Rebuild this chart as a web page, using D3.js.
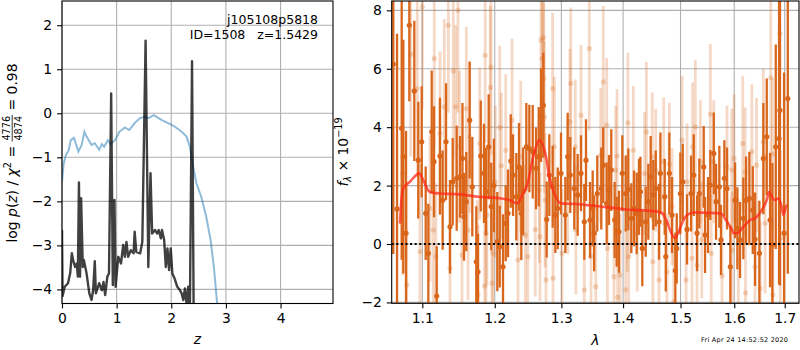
<!DOCTYPE html>
<html>
<head>
<meta charset="utf-8">
<script src="https://cdn.jsdelivr.net/npm/d3@7"></script>
<style>
  body { margin: 0; background: #fff; }
  svg { display: block; font-family: 'DejaVu Sans', sans-serif; }
  .tick text { font-size: 13.9px; fill: #000; }
  .tick line { stroke: #000; stroke-width: 1.1; }
</style>
</head>
<body>
<svg id="fig" width="800" height="350"></svg>
<script>
// ---- left panel: p(z) curves ----
const pzZ = [0, 0.03, 0.07, 0.12, 0.16, 0.22, 0.30, 0.36, 0.41, 0.45, 0.54, 0.60, 0.68, 0.73, 0.77,
  0.84, 0.89, 0.97, 1.05, 1.15, 1.23, 1.34, 1.43, 1.52, 1.58, 1.68, 1.82, 1.97, 2.06, 2.19, 2.28,
  2.34, 2.40, 2.46, 2.55, 2.64, 2.72, 2.78, 2.84, 2.90];
const pzLog = [-1.55, -1.15, -0.95, -0.85, -0.61, -0.56, -0.87, -0.72, -0.42, -0.53, -0.72, -0.68, -0.83, -0.70, -0.76,
  -0.61, -0.70, -0.61, -0.42, -0.32, -0.38, -0.21, -0.11, -0.08, -0.11, -0.04, -0.15, -0.24, -0.30, -0.42, -0.53,
  -0.76, -1.21, -1.59, -1.90, -2.35, -2.88, -3.49, -4.33, -5.2];

const chiZ = [0, 0.01, 0.05, 0.11, 0.15, 0.18, 0.21, 0.24, 0.27, 0.29, 0.31, 0.33, 0.35, 0.38, 0.40,
  0.45, 0.50, 0.54, 0.57, 0.60, 0.62, 0.68, 0.73, 0.76, 0.79, 0.83, 0.86, 0.90, 0.93, 0.96, 0.98,
  1.03, 1.08, 1.12, 1.15, 1.18, 1.21, 1.26, 1.31, 1.33, 1.36, 1.43, 1.47, 1.53, 1.58, 1.62, 1.65,
  1.70, 1.74, 1.77, 1.81, 1.83, 1.87, 1.90, 1.93, 1.96, 1.99, 2.02, 2.06, 2.11, 2.16, 2.19, 2.22,
  2.25, 2.28, 2.31, 2.34, 2.38, 2.41, 2.45];
const chiLog = [-2.65, -4.15, -3.94, -3.86, -3.63, -3.18, -3.37, -3.49, -3.41, -3.71, -1.57, -3.71, -1.93, -3.49, -3.33,
  -3.64, -4.09, -4.24, -4.02, -3.36, -4.09, -3.86, -4.02, -3.83, -4.13, -3.71, -3.64, 0.45, -3.90, -1.97, -3.94,
  -3.26, -3.41, -2.99, -3.26, -2.92, -3.26, -3.11, -3.18, -2.69, -3.15, -3.18, -2.92, 1.65, -3.49, -1.36, -2.73,
  -2.65, -2.73, -2.65, -2.84, -2.65, -2.88, -3.49, -3.07, -3.56, -3.07, -3.64, -3.75, -3.94, -4.02, -4.09, -4.24,
  -3.98, -4.32, -3.94, -4.6, 1.18, -4.6, -6];

const zTicks = [0, 1, 2, 3, 4];
const logTicks = [-4, -3, -2, -1, 0, 1, 2];

// ---- right panel: spectrum ----
const lamTicks = [1.1, 1.2, 1.3, 1.4, 1.5, 1.6, 1.7];
const fluxTicks = [-2, 0, 2, 4, 6, 8];

const lightLam = [1.0744, 1.0796, 1.0848, 1.0934, 1.0969, 1.1000, 1.1102, 1.1146, 1.1159, 1.1181, 1.1236, 1.1294,
  1.1349, 1.1372, 1.1417, 1.1450, 1.1482, 1.1502, 1.1537, 1.1597, 1.1621, 1.1644, 1.1751, 1.1761, 1.1785,
  1.1856, 1.1863, 1.1874, 1.1887, 1.1936, 1.1945, 1.1960, 1.1972, 1.2008, 1.2072, 1.2095, 1.2159, 1.2252,
  1.2340, 1.2380, 1.2449, 1.2485, 1.2599, 1.2660, 1.2671, 1.2686, 1.2701, 1.2721, 1.2728, 1.2736, 1.2747,
  1.2762, 1.2865, 1.2870, 1.2890, 1.3010, 1.3099, 1.3135, 1.3148, 1.3219, 1.3229, 1.3310, 1.3363, 1.3444,
  1.3472, 1.3548, 1.3629, 1.3671, 1.3727, 1.3740, 1.3848, 1.3876, 1.3899, 1.3909, 1.3950, 1.4044, 1.4071,
  1.4081, 1.4095, 1.4173, 1.4241, 1.4368, 1.4398, 1.4500, 1.4510, 1.4560, 1.4618, 1.4700, 1.4758, 1.4800,
  1.4848, 1.4878, 1.5028, 1.5100, 1.5118, 1.5209, 1.5219, 1.5270, 1.5301, 1.5362, 1.5388, 1.5547, 1.5563,
  1.5611, 1.5767, 1.5862, 1.5952, 1.5958, 1.5996, 1.6079, 1.6164, 1.6210, 1.6218, 1.6341, 1.6405, 1.6434,
  1.6505, 1.6569, 1.6604, 1.6718, 1.6752, 1.6758, 1.6902, 1.6910];
const lightFlux = [2.42, -1.40, 6.50, 5.32, -0.26, 8.12, 1.22, 0.48, 6.35, -0.43, 3.79, 4.70,
  7.49, -0.83, 5.92, 4.70, 8.00, 3.33, -0.38, 4.64, 0.48, 3.67, -1.00, -1.74, 3.44,
  -1.44, 6.46, 0.37, 0.99, 5.36, 6.06, -1.34, -0.32, 2.13, 3.99, 2.68, 3.21, 4.24,
  -0.55, 2.99, 0.31, -0.43, 0.50, 1.85, 0.25, 6.98, 6.35, 7.07, 5.67, 4.35, 1.50,
  -1.23, 5.32, -1.17, 3.33, -0.32, 1.96, 4.18, 5.50, 3.33, 0.48, 4.41, -1.57, 6.69,
  -0.43, -1.46, 3.04, 5.55, 4.07, -0.15, -1.12, 2.53, 3.01, -1.82, -1.06, -1.57, 1.05,
  4.15, -0.43, 3.21, 0.37, 2.42, 3.84, 2.99, -0.61, 2.53, -1.23, 2.82, -0.95, 2.74,
  1.28, -1.97, 3.56, -1.23, 2.13, -0.49, 3.33, 4.01, -0.72, 2.82, 0.14, 4.45, -0.32,
  2.82, -1.09, 2.64, 2.53, -0.21, 2.93, -0.55, 3.44, 2.47, -1.67, 3.16, -0.78, 2.70,
  -1.52, 3.50, 0.71, 5.70, 3.08, -1.74, 7.21, 0.20];
const lightErr = [3.5, 3.5, 3.5, 3.0, 3.0, 3.5, 2.5, 2.6, 3.0, 2.5, 2.8, 3.0,
  3.0, 2.5, 3.0, 2.8, 3.5, 2.6, 2.5, 2.8, 2.4, 2.6, 2.5, 2.4, 2.6,
  2.5, 3.0, 2.5, 2.4, 2.8, 3.0, 2.4, 2.5, 2.6, 2.8, 2.5, 2.6, 2.8,
  2.4, 2.6, 2.4, 2.3, 2.3, 2.5, 2.2, 3.0, 2.8, 3.2, 2.6, 2.6, 2.3,
  2.3, 2.6, 2.2, 2.4, 2.2, 2.3, 2.5, 2.6, 2.3, 2.2, 2.4, 2.2, 2.8,
  2.2, 2.1, 2.3, 2.6, 2.3, 2.1, 2.1, 2.2, 2.3, 2.0, 2.1, 2.1, 2.0,
  2.4, 2.0, 2.2, 2.0, 2.1, 2.4, 2.2, 2.0, 2.1, 2.0, 2.2, 2.0, 2.1,
  2.0, 2.0, 2.2, 2.0, 2.0, 2.0, 2.2, 2.3, 2.0, 2.1, 2.0, 2.4, 2.0,
  2.1, 2.0, 2.1, 2.1, 2.0, 2.2, 2.1, 2.3, 2.2, 2.2, 2.3, 2.2, 2.3,
  2.3, 2.5, 2.4, 3.0, 2.6, 2.6, 3.5, 3.0];

const darkLam = [1.0623, 1.0671, 1.0731, 1.0752, 1.0787, 1.0830, 1.0895, 1.0947, 1.0992, 1.1045, 1.1080, 1.1125,
  1.1156, 1.1192, 1.1236, 1.1272, 1.1318, 1.1372, 1.1409, 1.1464, 1.1510, 1.1544, 1.1565, 1.1597, 1.1644,
  1.1681, 1.1737, 1.1761, 1.1800, 1.1846, 1.1874, 1.1913, 1.1950, 1.1988, 1.2037, 1.2072, 1.2120, 1.2159,
  1.2193, 1.2233, 1.2267, 1.2315, 1.2355, 1.2389, 1.2416, 1.2464, 1.2509, 1.2560, 1.2610, 1.2651, 1.2686,
  1.2721, 1.2773, 1.2813, 1.2865, 1.2906, 1.2943, 1.2994, 1.3062, 1.3099, 1.3140, 1.3203, 1.3257, 1.3310,
  1.3363, 1.3390, 1.3455, 1.3498, 1.3522, 1.3573, 1.3638, 1.3671, 1.3727, 1.3765, 1.3803, 1.3859, 1.3893,
  1.3931, 1.3987, 1.4044, 1.4088, 1.4139, 1.4185, 1.4231, 1.4270, 1.4295, 1.4327, 1.4386, 1.4431, 1.4472,
  1.4518, 1.4560, 1.4618, 1.4642, 1.4718, 1.4737, 1.4800, 1.4848, 1.4907, 1.4932, 1.4997, 1.5040, 1.5118,
  1.5191, 1.5240, 1.5301, 1.5343, 1.5424, 1.5449, 1.5504, 1.5547, 1.5611, 1.5654, 1.5716, 1.5747, 1.5811,
  1.5862, 1.5925, 1.6016, 1.6060, 1.6112, 1.6176, 1.6229, 1.6293, 1.6360, 1.6405, 1.6490, 1.6569, 1.6637,
  1.6703, 1.6750, 1.6818, 1.6885, 1.6902, 1.6987, 1.7063];
const darkFlux = [6.16, 1.2, 3.96, 2.99, 0.37, 7.49, 5.24, 2.87, 3.50, 1.05, -0.32, 3.84,
  2.82, -1.78, 3.01, 1.50, 3.50, 0.59, 2.13, 2.25, 2.30, 2.93, 0.93, 1.45, 4.24,
  1.96, -0.61, -0.95, 3.01, 2.42, 1.79, 3.33, 1.28, 2.0, 0.08, -0.09, -0.78, 0.71,
  1.05, 2.84, 2.36, 1.62, 2.64, 1.05, 1.8, 3.33, 3.27, 3.16, 2.59, 2.99, 4.41,
  4.75, 0.84, 2.36, 1.96, 0.99, 1.22, 2.42, 0.99, 2.99, 2.36, 1.90, 1.68, 2.42,
  0.76, 2.87, 0.82, 1.22, 0.37, 1.73, 1.90, 2.70, 1.39, 1.85, 2.53, 0.82, 0.42,
  0.42, 2.42, 1.73, 1.87, 0.88, 1.22, 1.05, 1.62, 1.79, -0.15, 0.76, 1.45, 2.30,
  1.68, 1.90, 0.76, 2.42, 1.62, -0.43, 2.42, 0.99, -0.91, -0.15, 1.73, 2.13, 0.50,
  1.73, 2.36, 0.37, 1.73, 2.64, 0.31, 0.99, 2.02, 3.10, 1.45, 1.96, 0.14, 2.25,
  1.90, -0.78, 1.50, 0.54, 0.14, 0.88, 1.50, 1.56, 1.16, 0.16, -0.32, 2.93, 3.67,
  0.82, -0.03, 3.33, 3.61, 4.58, 0.37, 4.98];
const darkErr = [6.5, 6.0, 4.5, 4.0, 3.5, 2.6, 2.4, 2.0, 1.9, 1.6, 1.7, 2.1,
  1.9, 1.7, 2.0, 1.7, 2.0, 1.6, 1.5, 1.8, 1.4, 1.9, 1.5, 1.7, 2.0,
  1.7, 1.9, 1.3, 1.9, 1.7, 1.5, 1.8, 1.5, 1.6, 1.7, 1.4, 1.8, 1.3,
  1.5, 1.6, 1.4, 1.5, 1.5, 1.6, 1.5, 1.5, 1.5, 1.6, 1.4, 1.7, 1.6,
  1.8, 1.3, 1.4, 1.4, 1.3, 1.4, 1.4, 1.3, 1.5, 1.3, 1.4, 1.4, 1.3,
  1.3, 1.4, 1.3, 1.3, 1.3, 1.3, 1.4, 1.3, 1.4, 1.2, 1.4, 1.3, 1.2,
  1.4, 1.3, 1.3, 1.4, 1.2, 1.3, 1.4, 1.3, 1.2, 1.3, 1.2, 1.3, 1.4,
  1.2, 1.3, 1.3, 1.4, 1.3, 1.2, 1.4, 1.3, 1.3, 1.2, 1.4, 1.3, 1.2,
  1.3, 1.4, 1.3, 1.2, 1.4, 1.3, 1.3, 1.2, 1.4, 1.3, 1.4, 1.2, 1.3,
  1.4, 1.4, 1.3, 1.4, 1.3, 1.4, 1.5, 1.6, 1.5, 1.6, 1.8, 1.9, 2.0,
  2.3, 2.8, 3.5, 5.0, 6.0, 5.5, 6.0];

const modelLam = [1.0709, 1.0731, 1.0752, 1.0838, 1.0960, 1.1013, 1.1093, 1.1146, 1.1237, 1.1510, 1.1761,
  1.2095, 1.2218, 1.2329, 1.2415, 1.2490, 1.2534, 1.2610, 1.2660, 1.2711, 1.2762, 1.2813, 1.2890, 1.2995,
  1.3231, 1.3552, 1.4017, 1.4588, 1.4676, 1.4759, 1.4836, 1.4896, 1.4955, 1.5027, 1.5118, 1.5240, 1.5454,
  1.5736, 1.5863, 1.5958, 1.5984, 1.6051, 1.6176, 1.6306, 1.6404, 1.6536, 1.6636, 1.6688, 1.6736, 1.6803,
  1.6870, 1.6938, 1.6972, 1.7027, 1.7055];
const modelFlux = [0.70, 1.62, 1.90, 2.13, 2.42, 2.19, 1.79, 1.75, 1.73, 1.70, 1.62,
  1.56, 1.50, 1.39, 1.73, 2.13, 2.64, 3.33, 3.56, 3.39, 2.99, 2.30, 1.73, 1.39,
  1.37, 1.30, 1.19, 1.11, 1.05, 0.76, 0.37, 0.20, 0.37, 0.71, 0.99, 1.08, 1.07,
  1.05, 0.76, 0.48, 0.37, 0.37, 0.59, 0.82, 0.88, 1.16, 1.50, 1.79, 1.62, 1.50,
  1.56, 1.28, 0.99, 1.28, 1.33];

const orange = '#d9661a';
const fontPx = 13.9;

let svg = d3.select('#fig');
let defs = svg.append('defs');

let minus = d => (d < 0 ? '\u2212' + Math.abs(d) : '' + d);

// left axes box
let L = { x0: 62, x1: 333, y0: 1, y1: 303.5 };
let xL = d3.scaleLinear().domain([0, 4.96]).range([L.x0, L.x1]);
let yL = d3.scaleLinear().domain([-4.32, 2.55]).range([L.y1, L.y0]);

// right axes box
let R = { x0: 391.7, x1: 799, y0: 1, y1: 303.3 };
let xR = d3.scaleLog().domain([1.0603, 1.7294]).range([R.x0, R.x1]);
let yR = d3.scaleLinear().domain([-2.03, 8.32]).range([R.y1, R.y0]);

let clip = (id, b) => {
  defs.append('clipPath').attr('id', id)
    .append('rect').attr('x', b.x0).attr('y', b.y0)
    .attr('width', b.x1 - b.x0).attr('height', b.y1 - b.y0);
};
clip('clipL', L);
clip('clipR', R);

let drawGrid = function (b, xs, ys, xt, yt) {
  let g = svg.append('g').attr('stroke', '#b0b0b0').attr('stroke-width', 1.1);
  g.selectAll('.gx').data(xt).enter().append('line')
    .attr('x1', d => xs(d)).attr('x2', d => xs(d))
    .attr('y1', b.y0).attr('y2', b.y1);
  g.selectAll('.gy').data(yt).enter().append('line')
    .attr('y1', d => ys(d)).attr('y2', d => ys(d))
    .attr('x1', b.x0).attr('x2', b.x1);
};

let drawAxes = function (b, xs, ys, xt, yt, xfmt, yfmt) {
  svg.append('g').attr('transform', 'translate(0,' + b.y1 + ')')
    .call(d3.axisBottom(xs).tickValues(xt).tickFormat(xfmt).tickSize(4.9).tickPadding(4.9))
    .call(g => g.select('.domain').remove())
    .selectAll('text').attr('font-family', 'DejaVu Sans').style('font-size', fontPx + 'px');
  svg.append('g').attr('transform', 'translate(' + b.x0 + ',0)')
    .call(d3.axisLeft(ys).tickValues(yt).tickFormat(yfmt).tickSize(4.9).tickPadding(4.9))
    .call(g => g.select('.domain').remove())
    .selectAll('text').attr('font-family', 'DejaVu Sans').style('font-size', fontPx + 'px');
  svg.append('rect').attr('x', b.x0).attr('y', b.y0)
    .attr('width', b.x1 - b.x0).attr('height', b.y1 - b.y0)
    .attr('fill', 'none').attr('stroke', '#000').attr('stroke-width', 1.1);
};

// ---- left panel ----
drawGrid(L, xL, yL, zTicks, logTicks);

let lineL = d3.line().x(d => xL(d[0])).y(d => yL(d[1]));
let gL = svg.append('g').attr('clip-path', 'url(#clipL)');

gL.append('path')
  .datum(pzZ.map((z, i) => [z, pzLog[i]]))
  .attr('d', lineL).attr('fill', 'none')
  .attr('stroke', '#1f77b4').attr('stroke-opacity', 0.5).attr('stroke-width', 2);

gL.append('path')
  .datum(chiZ.map((z, i) => [z, chiLog[i]]))
  .attr('d', lineL).attr('fill', 'none')
  .attr('stroke', '#000').attr('stroke-opacity', 0.75).attr('stroke-width', 2.4)
  .attr('stroke-linejoin', 'round');

drawAxes(L, xL, yL, zTicks, logTicks, d3.format('d'), minus);

svg.append('text').attr('x', 318).attr('y', 24).attr('text-anchor', 'end')
  .style('font-size', '12.5px').text('j105108p5818');
svg.append('text').attr('x', 318).attr('y', 39).attr('text-anchor', 'end')
  .style('font-size', '12.5px').style('white-space', 'pre').text('ID=1508   z=1.5429');

svg.append('text').attr('x', (L.x0 + L.x1) / 2).attr('y', 344).attr('text-anchor', 'middle')
  .style('font-size', fontPx + 'px').style('font-style', 'italic').text('z');

// left y label with fraction
let yLab = svg.append('g');
let t1 = yLab.append('text').attr('x', 0).attr('y', 0).style('font-size', fontPx + 'px');
t1.append('tspan').text('log ');
t1.append('tspan').style('font-style', 'italic').text('p');
t1.append('tspan').text('(');
t1.append('tspan').style('font-style', 'italic').text('z');
t1.append('tspan').text(') / ');
t1.append('tspan').style('font-style', 'italic').text('\u03c7');
t1.append('tspan').attr('dy', -5.5).style('font-size', '9.7px').text('2');
t1.append('tspan').attr('dy', 5.5).style('white-space', 'pre').text(' = ');
let len1 = t1.node().getComputedTextLength();

let num = yLab.append('text').attr('y', -6.5).attr('text-anchor', 'middle')
  .style('font-size', '9.7px').text('4776');
let den = yLab.append('text').attr('y', 5).attr('text-anchor', 'middle')
  .style('font-size', '9.7px').text('4874');
let fw = Math.max(num.node().getComputedTextLength(), den.node().getComputedTextLength()) + 2;
num.attr('x', len1 + fw / 2);
den.attr('x', len1 + fw / 2);
yLab.append('line').attr('x1', len1).attr('x2', len1 + fw)
  .attr('y1', -4.3).attr('y2', -4.3).attr('stroke', '#000').attr('stroke-width', 0.8);

let t2 = yLab.append('text').attr('x', len1 + fw).attr('y', 0)
  .style('font-size', fontPx + 'px').style('white-space', 'pre').text(' = 0.98');
let total = len1 + fw + t2.node().getComputedTextLength();
yLab.attr('transform', 'translate(16.5,' + (153 + total / 2) + ') rotate(-90)');

// ---- right panel ----
drawGrid(R, xR, yR, lamTicks, fluxTicks);

let gR = svg.append('g').attr('clip-path', 'url(#clipR)');

let drawErrors = function (lam, flux, err, opacity, width) {
  let pts = lam.map((l, i) => ({ l: l, f: flux[i], e: err[i] }));
  let g = gR.append('g');
  g.selectAll('line').data(pts).enter().append('line')
    .attr('x1', d => xR(d.l)).attr('x2', d => xR(d.l))
    .attr('y1', d => yR(d.f - d.e)).attr('y2', d => yR(d.f + d.e))
    .attr('stroke', orange).attr('stroke-width', width).attr('stroke-opacity', opacity);
  g.selectAll('circle').data(pts).enter().append('circle')
    .attr('cx', d => xR(d.l)).attr('cy', d => yR(d.f)).attr('r', 2.6)
    .attr('fill', orange).attr('fill-opacity', opacity);
};

drawErrors(lightLam, lightFlux, lightErr, 0.25, 2.8);
drawErrors(darkLam, darkFlux, darkErr, 1, 2.3);

gR.append('path')
  .datum(modelLam.map((l, i) => [l, modelFlux[i]]))
  .attr('d', d3.line().curve(d3.curveMonotoneX).x(d => xR(d[0])).y(d => yR(d[1])))
  .attr('fill', 'none').attr('stroke', '#ff2a1a').attr('stroke-opacity', 0.75)
  .attr('stroke-width', 2.6).attr('stroke-linejoin', 'round');

gR.append('line')
  .attr('x1', R.x0).attr('x2', R.x1).attr('y1', yR(0)).attr('y2', yR(0))
  .attr('stroke', '#000').attr('stroke-width', 2).attr('stroke-dasharray', '2,2.6');

drawAxes(R, xR, yR, lamTicks, fluxTicks, d3.format('.1f'), minus);

svg.append('text').attr('x', (R.x0 + R.x1) / 2).attr('y', 345).attr('text-anchor', 'middle')
  .style('font-size', fontPx + 'px').style('font-style', 'italic').text('\u03bb');

let fLab = svg.append('text')
  .attr('transform', 'translate(348,152) rotate(-90)')
  .attr('text-anchor', 'middle').style('font-size', fontPx + 'px');
fLab.append('tspan').style('font-style', 'italic').text('f');
fLab.append('tspan').attr('dy', 3).style('font-size', '9.7px').style('font-style', 'italic').text('\u03bb');
fLab.append('tspan').attr('dy', -3).style('white-space', 'pre').text(' \u00d7 10');
fLab.append('tspan').attr('dy', -6).style('font-size', '9.7px').text('\u221219');

svg.append('text').attr('x', 701).attr('y', 342)
  .style('font-size', '6.5px').attr('textLength', 87).text('Fri Apr 24 14:52:52 2020');
</script>
</body>
</html>
